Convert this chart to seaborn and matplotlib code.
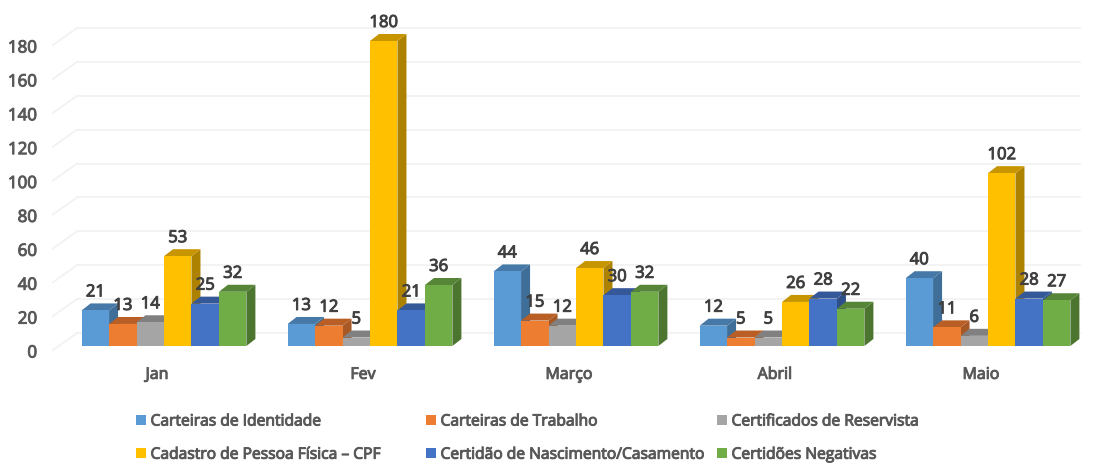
import pandas as pd
import seaborn as sns
import matplotlib.pyplot as plt
import matplotlib.patheffects as pe
from matplotlib.patches import Patch, Polygon
from matplotlib.transforms import ScaledTranslation

months = ['Jan', 'Fev', 'Março', 'Abril', 'Maio']
series_names = [
    'Carteiras de Identidade', 'Carteiras de Trabalho', 'Certificados de Reservista',
    'Cadastro de Pessoa Física – CPF', 'Certidão de Nascimento/Casamento', 'Certidões Negativas',
]
identidade = [21, 13, 44, 12, 40]
trabalho = [13, 12, 15, 5, 11]
reservista = [14, 5, 12, 5, 6]
cpf = [53, 180, 46, 26, 102]
nascimento = [25, 21, 30, 28, 28]
negativas = [32, 36, 32, 22, 27]
y_ticks = [0, 20, 40, 60, 80, 100, 120, 140, 160, 180]

front_colors = ['#5B9BD5', '#ED7D31', '#A5A5A5', '#FFC000', '#4472C4', '#70AD47']
top_colors = ['#4679A7', '#B95F25', '#808080', '#C79500', '#355899', '#568537']
side_colors = ['#3F6E98', '#A85824', '#707070', '#AD8200', '#2F4F88', '#4C7530']
TEXT = '#595959'
FONT = 'Open Sans'

W, H = 1095, 463
plt.rcParams['font.family'] = FONT


def semibold(text, color):
    # thin outline, the installed font has no usable semibold weight
    text.set_path_effects([pe.withStroke(linewidth=0.7, foreground=color)])


df = pd.DataFrame(
    [(m, s, v) for s, vals in zip(series_names, [identidade, trabalho, reservista, cpf, nascimento, negativas])
     for m, v in zip(months, vals)],
    columns=['mes', 'serie', 'valor'],
)

fig = plt.figure(figsize=(W / 100, H / 100), dpi=100)
# axes: y=0 at 346 px and y=180 at 41 px, from the left wall edge to the right border
ax = fig.add_axes([53 / W, (H - 346) / H, (W - 53) / W, 305 / H])
sns.barplot(data=df, x='mes', y='valor', hue='serie', hue_order=series_names, order=months,
            palette=front_colors, saturation=1, width=0.8, legend=False, ax=ax, zorder=3)
ax.set_ylim(0, 180)
ax.set_xlim((53 - 164) / 206, (W - 164) / 206)
ax.set_xlabel('')
ax.set_ylabel('')
sns.despine(ax=ax, left=True, bottom=True, right=True, top=True)
ax.patch.set_visible(False)
ax.tick_params(length=0)

px_x = 1 / 206
px_y = 180 / 305
DX, DY = 9 * px_x, 7 * px_y  # bar depth

# gridlines on the back wall and floor of the fake 3D box
for v in y_ticks:
    back = v + 13 * px_y
    ax.plot([ax.get_xlim()[0], ax.get_xlim()[0] + 24 * px_x], [v - 4 * px_y, back],
            color='#F2F2F2', lw=1.3, clip_on=False, zorder=1)
    ax.plot([ax.get_xlim()[0] + 24 * px_x, ax.get_xlim()[1] - 15 * px_x], [back, back],
            color='#F2F2F2', lw=1.3, clip_on=False, zorder=1)

# seaborn gives one container per hue, depth faces drawn left to right
bars = []
for i, cont in enumerate(ax.containers):
    for bar, val in zip(cont, cont.datavalues):
        bars.append((bar, val, i))
bars.sort(key=lambda b: b[0].get_x())
for bar, val, i in bars:
    bar.set_clip_on(False)
    x0, x1 = bar.get_x(), bar.get_x() + bar.get_width()
    ax.add_patch(Polygon([(x1, 0), (x1 + DX, DY), (x1 + DX, val + DY), (x1, val)],
                         fc=side_colors[i], lw=0, clip_on=False, zorder=2))
    ax.add_patch(Polygon([(x0, val), (x0 + DX, val + DY), (x1 + DX, val + DY), (x1, val)],
                         fc=top_colors[i], lw=0, clip_on=False, zorder=2))
    t = ax.annotate(f'{val:.0f}', ((x0 + x1) / 2, val), xytext=(0, 18 * 0.72), textcoords='offset points',
                    ha='center', va='center', fontsize=12, color='#404040',
                    annotation_clip=False, zorder=5)
    semibold(t, '#404040')

ax.set_yticks(y_ticks)
ax.set_yticklabels(y_ticks, fontsize=12.2, color=TEXT)
ax.tick_params(axis='y', pad=11.4)
for lab in ax.get_yticklabels():
    lab.set_transform(lab.get_transform() + ScaledTranslation(0, -5.5 / 100, fig.dpi_scale_trans))
    semibold(lab, TEXT)
ax.tick_params(axis='x', pad=15)
for lab in ax.get_xticklabels():
    lab.set_fontsize(11.5)
    lab.set_color(TEXT)
    lab.set_transform(lab.get_transform() + ScaledTranslation(-7 / 100, 0, fig.dpi_scale_trans))
    semibold(lab, TEXT)

# three separate legends because the column gaps are uneven in the original
columns = [(0, 3, 136), (1, 4, 426), (2, 5, 717)]
for a, b, left in columns:
    handles = [Patch(fc=front_colors[k], lw=0) for k in (a, b)]
    leg = ax.legend(handles, [series_names[a], series_names[b]],
                    loc='upper left', bbox_to_anchor=(left / W, 1 - 413.5 / H), bbox_transform=fig.transFigure,
                    frameon=False, prop={'family': FONT, 'size': 11.25},
                    labelcolor=TEXT, handlelength=0.65, handleheight=0.65, handletextpad=0.28,
                    labelspacing=1.1, borderpad=0, borderaxespad=0)
    for t in leg.get_texts():
        semibold(t, TEXT)
    ax.add_artist(leg)
    ax.legend_ = None

fig.savefig('out.png', dpi=100)
plt.close(fig)
